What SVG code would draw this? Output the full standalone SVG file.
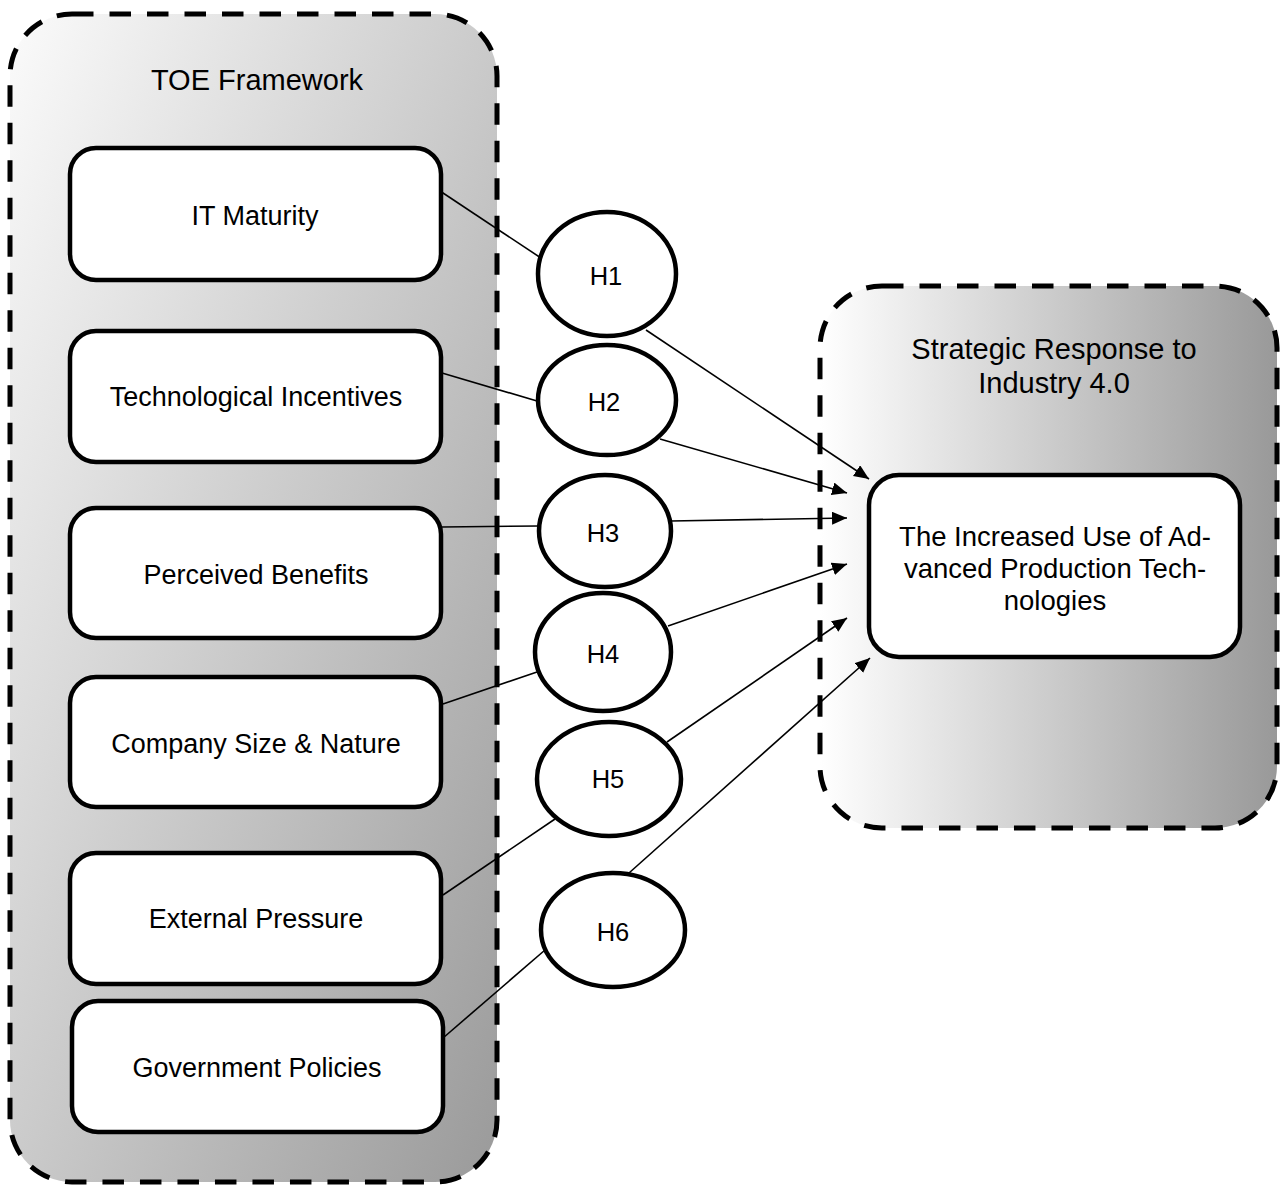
<svg xmlns="http://www.w3.org/2000/svg" width="1281" height="1187" viewBox="0 0 1281 1187">
<defs>
<linearGradient id="gLeft" x1="0" y1="0" x2="1" y2="1">
<stop offset="0" stop-color="#fbfbfb"/>
<stop offset="1" stop-color="#9a9a9a"/>
</linearGradient>
<linearGradient id="gRight" x1="0" y1="0" x2="1" y2="0">
<stop offset="0" stop-color="#ffffff"/>
<stop offset="1" stop-color="#999999"/>
</linearGradient>
<marker id="arr" markerUnits="userSpaceOnUse" markerWidth="16" markerHeight="14" refX="15" refY="6.5" orient="auto">
<path d="M0,0 L15,6.5 L0,13 z" fill="#000"/>
</marker>
</defs>
<style>
.cont{stroke:#000;stroke-width:5;stroke-dasharray:21.5 16}
.box{fill:#fff;stroke:#000;stroke-width:4.5}
.ell{fill:#fff;stroke:#000;stroke-width:4.5}
.lbl{font-family:"Liberation Sans",Arial,sans-serif;font-size:27px;fill:#000;text-anchor:middle}
.tgt{font-family:"Liberation Sans",Arial,sans-serif;font-size:27.5px;fill:#000;text-anchor:middle}
.ttl{font-family:"Liberation Sans",Arial,sans-serif;font-size:29px;fill:#000;text-anchor:middle}
.hl{font-family:"Liberation Sans",Arial,sans-serif;font-size:25.5px;fill:#000;text-anchor:middle}
.con{stroke:#000;stroke-width:1.6;fill:none}
</style>
<g id="toe-framework">
<rect class="cont" x="10" y="14" width="487" height="1168" rx="62" ry="62" fill="url(#gLeft)"/>
<text class="ttl" x="257" y="90">TOE Framework</text>
</g>
<g id="strategic-response">
<rect class="cont" x="820" y="286" width="457" height="542" rx="62" ry="62" fill="url(#gRight)"/>
<text class="ttl" x="1054" y="359">Strategic Response to</text>
<text class="ttl" x="1054" y="393">Industry 4.0</text>
</g>
<g id="connectors">
<line class="con" x1="437" y1="189" x2="541" y2="258"/>
<line class="con" x1="646" y1="330" x2="869" y2="479" marker-end="url(#arr)"/>
<line class="con" x1="442" y1="373" x2="537" y2="401"/>
<line class="con" x1="660" y1="439" x2="847" y2="493" marker-end="url(#arr)"/>
<line class="con" x1="442" y1="527" x2="539" y2="526"/>
<line class="con" x1="671" y1="521" x2="847" y2="518" marker-end="url(#arr)"/>
<line class="con" x1="443" y1="704" x2="537" y2="672"/>
<line class="con" x1="668" y1="626" x2="847" y2="564" marker-end="url(#arr)"/>
<line class="con" x1="443" y1="895" x2="555" y2="819"/>
<line class="con" x1="667" y1="742" x2="847" y2="618" marker-end="url(#arr)"/>
<line class="con" x1="443" y1="1038" x2="545" y2="950"/>
<line class="con" x1="629" y1="873" x2="870" y2="658" marker-end="url(#arr)"/>
</g>
<g id="it-maturity">
<rect class="box" x="70" y="148" width="371" height="132" rx="26" ry="26"/>
<text class="lbl" x="255" y="225">IT Maturity</text>
</g>
<g id="technological-incentives">
<rect class="box" x="70" y="331" width="371" height="131" rx="26" ry="26"/>
<text class="lbl" x="256" y="406">Technological Incentives</text>
</g>
<g id="perceived-benefits">
<rect class="box" x="70" y="508" width="371" height="130" rx="26" ry="26"/>
<text class="lbl" x="256" y="584">Perceived Benefits</text>
</g>
<g id="company-size">
<rect class="box" x="70" y="677" width="371" height="130" rx="26" ry="26"/>
<text class="lbl" x="256" y="753">Company Size &amp; Nature</text>
</g>
<g id="external-pressure">
<rect class="box" x="70" y="853" width="371" height="131" rx="26" ry="26"/>
<text class="lbl" x="256" y="928">External Pressure</text>
</g>
<g id="government-policies">
<rect class="box" x="72" y="1001" width="371" height="131" rx="26" ry="26"/>
<text class="lbl" x="257" y="1077">Government Policies</text>
</g>
<g id="h1">
<ellipse class="ell" cx="607" cy="274" rx="69" ry="62"/>
<text class="hl" x="606" y="285">H1</text>
</g>
<g id="h2">
<ellipse class="ell" cx="607" cy="400" rx="69" ry="55"/>
<text class="hl" x="604" y="411">H2</text>
</g>
<g id="h3">
<ellipse class="ell" cx="605" cy="531" rx="66" ry="56"/>
<text class="hl" x="603" y="542">H3</text>
</g>
<g id="h4">
<ellipse class="ell" cx="603" cy="652" rx="68" ry="59"/>
<text class="hl" x="603" y="663">H4</text>
</g>
<g id="h5">
<ellipse class="ell" cx="609" cy="779" rx="72" ry="57"/>
<text class="hl" x="608" y="788">H5</text>
</g>
<g id="h6">
<ellipse class="ell" cx="613" cy="930" rx="72" ry="57"/>
<text class="hl" x="613" y="941">H6</text>
</g>
<g id="target">
<rect class="box" x="869" y="475" width="371" height="182" rx="30" ry="30"/>
<text class="tgt" x="1055" y="546">The Increased Use of Ad-</text>
<text class="tgt" x="1055" y="578">vanced Production Tech-</text>
<text class="tgt" x="1055" y="610">nologies</text>
</g>
</svg>
